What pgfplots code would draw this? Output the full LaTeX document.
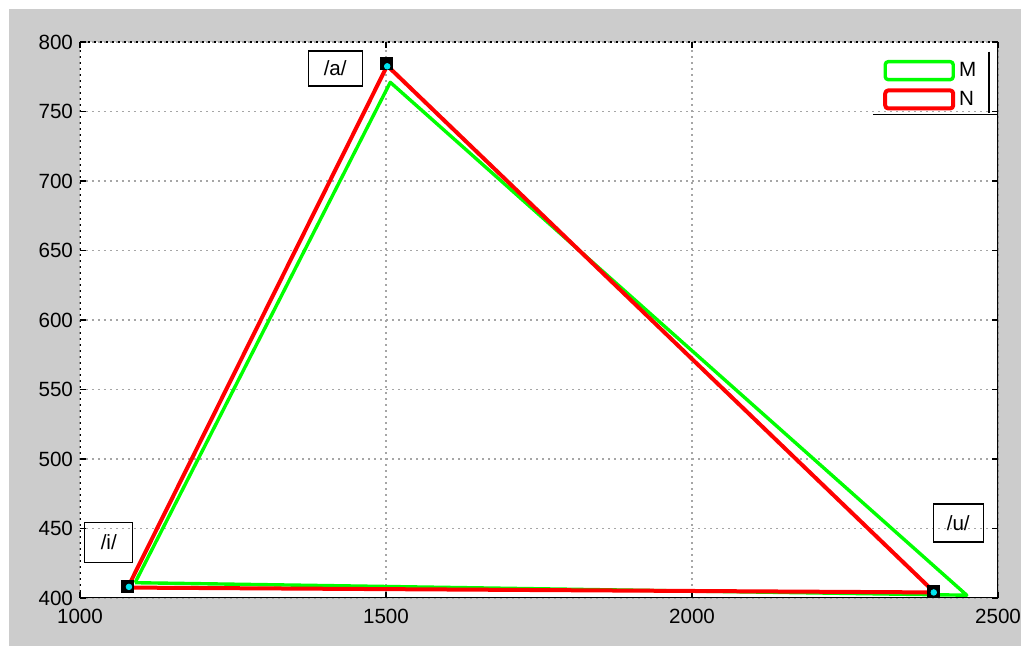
\documentclass[border=0pt]{standalone}
\usepackage{pgfplots}
\pgfplotsset{compat=1.18}
\usepackage{fontspec}
\setmainfont{Liberation Sans}
\definecolor{figgray}{RGB}{204,204,204}
\definecolor{mgreen}{RGB}{0,255,0}
\definecolor{nred}{RGB}{255,0,0}
\definecolor{mcyan}{RGB}{0,230,240}
\begin{document}
\begin{tikzpicture}
\fill[white] (-40pt,-24pt) rectangle (470.5pt,299pt);
\fill[figgray] (-35.5pt,-24pt) rectangle (470.5pt,294.5pt);
\useasboundingbox (-40pt,-24pt) rectangle (470.5pt,299pt);
\begin{axis}[at={(0,0)}, anchor=south west, scale only axis,
  width=459pt, height=278pt,
  xmin=1000, xmax=2500, ymin=400, ymax=800,
  xtick={1000,1500,2000,2500}, ytick={400,450,...,800},
  axis background/.style={fill=white},
  axis line style={draw=none},
  grid=major,
  major grid style={draw=gray!70, dash pattern=on 0.8pt off 2.2pt, line width=0.8pt},
  tick style={black, line width=0.6pt}, tick align=inside, major tick length=3pt,
  /pgf/number format/assume math mode=true,
  /pgf/number format/set thousands separator={},
  ticklabel style={font=\fontsize{10.3}{12}\selectfont},
  xticklabel style={yshift=-2pt},
  legend style={at={(rel axis cs:0.868,0.979)}, anchor=north west, draw=none, fill=none,
    font=\fontsize{10.3}{12}\selectfont, row sep=1.8pt},
  legend cell align=left,
  legend image code/.code={\draw[#1, rounded corners=1.5pt] (0pt,-4.5pt) rectangle (34pt,4.5pt);},
]
% frame
\draw[black, line width=0.8pt] (rel axis cs:0,0) -- (rel axis cs:1,0);
\draw[black, line width=1.1pt] (rel axis cs:1,0) -- (rel axis cs:1,1);
\draw[black, dash pattern=on 0.8pt off 2.2pt, line width=0.8pt] (rel axis cs:0,0) -- (rel axis cs:0,1) -- (rel axis cs:1,1);

\addplot[mgreen, line width=1.7pt, line join=round] coordinates {
 (1090,411) (1507,771) (2449,402) (1090,411)
};
\addlegendentry{M}
\addplot[nred, line width=2pt, line join=round] coordinates {
 (1078,407.5) (1502,783) (2394,405) (2394,404) (1078,407.5)
};
\addlegendentry{N}
\addplot[only marks, mark=square*, mark size=3pt, black, forget plot] coordinates {
 (1077,408) (1501,784.5) (2394,404.7)
};
\addplot[only marks, mark=*, mark size=1.4pt, mcyan, draw=mcyan, forget plot] coordinates {
 (1080,408) (1502,782.5) (2395,404)
};
% legend shadow lines
\draw[black, line width=0.7pt] (axis cs:2485,793) -- (axis cs:2485,749);
\draw[black, line width=0.7pt] (axis cs:2296,748) -- (axis cs:2500,748);
% labels
\node[draw, line width=0.6pt, minimum width=27pt, minimum height=17.5pt, inner sep=0pt,
  font=\fontsize{10.3}{12}\selectfont] at (axis cs:1417,781) {/a/};
\node[draw, line width=0.6pt, minimum width=24pt, minimum height=20pt, inner sep=0pt,
  font=\fontsize{10.3}{12}\selectfont] at (axis cs:1047,440) {/i/};
\node[draw, line width=0.6pt, minimum width=25pt, minimum height=19pt, inner sep=0pt,
  font=\fontsize{10.3}{12}\selectfont] at (axis cs:2435,454) {/u/};
\end{axis}
\end{tikzpicture}
\end{document}
